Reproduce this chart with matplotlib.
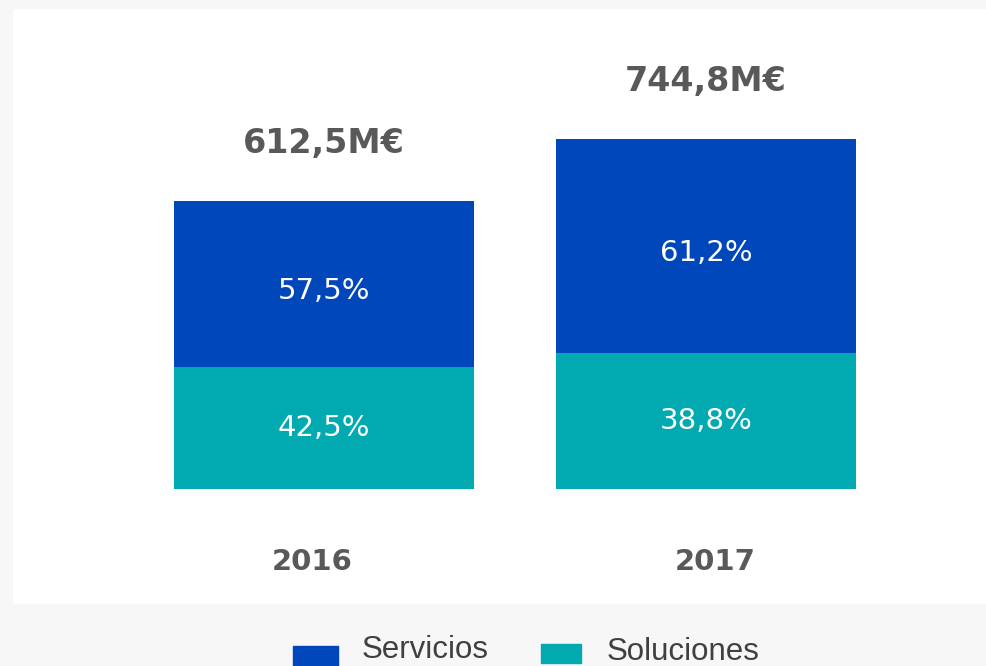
import matplotlib.pyplot as plt
from matplotlib.patches import Rectangle

years = ["2016", "2017"]
totals = [612.5, 744.8]
servicios_pct = [57.5, 61.2]
soluciones_pct = [42.5, 38.8]
total_labels = ["612,5M€", "744,8M€"]

c_serv = "#0047BB"
c_sol = "#00AAB0"
gray = "#595959"

sol = [t * p / 100 for t, p in zip(totals, soluciones_pct)]
serv = [t * p / 100 for t, p in zip(totals, servicios_pct)]

fig = plt.figure(figsize=(9.87, 6.66), dpi=100, facecolor="#f7f7f7")
ax = fig.add_axes([13 / 987, 62 / 666, 974 / 987, 595 / 666])
ax.set_facecolor("white")

x = [0, 1]
ax.bar(x, sol, width=0.785, color=c_sol)
ax.bar(x, serv, width=0.785, bottom=sol, color=c_serv)

year_shift = [-0.03, 0.024]
for i in x:
    ax.text(i, sol[i] / 2, f"{soluciones_pct[i]:.1f}%".replace(".", ","),
            ha="center", va="center", color="white", fontsize=21)
    ax.text(i, sol[i] + serv[i] / 2 - 15, f"{servicios_pct[i]:.1f}%".replace(".", ","),
            ha="center", va="center", color="white", fontsize=21)
    ax.text(i, totals[i] + 123, total_labels[i], ha="center", va="center",
            color=gray, fontsize=24, fontweight="bold")
    ax.text(i + year_shift[i], -155, years[i], ha="center", va="center",
            color=gray, fontsize=21, fontweight="bold")

ax.set_xlim(-0.814, 1.736)
ax.set_ylim(-244.7, 1021.3)
ax.set_xticks([])
ax.set_yticks([])
for s in ax.spines.values():
    s.set_visible(False)

# legend at the bottom
fig.add_artist(Rectangle((293 / 987, 0), 45 / 987, 20 / 666,
                         transform=fig.transFigure, color=c_serv))
fig.add_artist(Rectangle((541 / 987, 3 / 666), 40 / 987, 19 / 666,
                         transform=fig.transFigure, color=c_sol))
lfont = ["Liberation Sans", "DejaVu Sans"]
fig.text(362 / 987, 8 / 666, "Servicios", ha="left", va="baseline",
         fontsize=22.5, color="#404040", family=lfont)
fig.text(607 / 987, 6 / 666, "Soluciones", ha="left", va="baseline",
         fontsize=22.5, color="#404040", family=lfont)

fig.savefig("out.png", dpi=100, facecolor=fig.get_facecolor())
